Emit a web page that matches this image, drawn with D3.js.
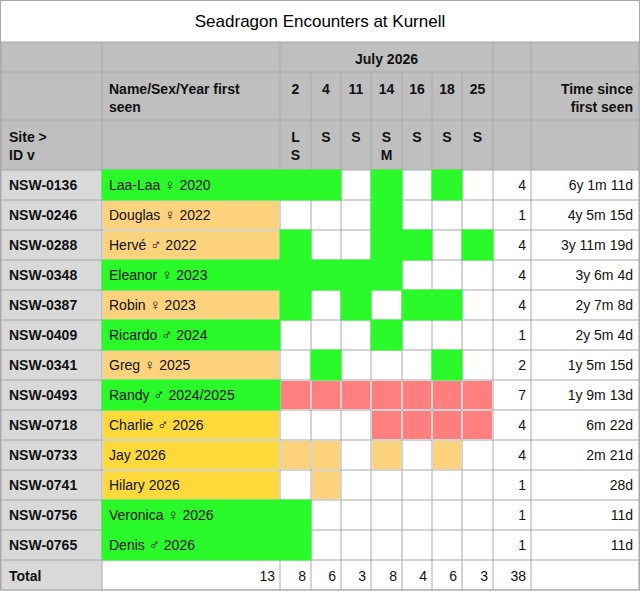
<!DOCTYPE html>
<html><head><meta charset="utf-8">
<script src="https://cdn.jsdelivr.net/npm/d3@7"></script>
<style>body{margin:0;background:#fff}svg{font-family:"Liberation Sans",Arial,Helvetica,sans-serif}</style>
</head><body><svg id="c" width="640" height="591"></svg>
<script>
const title = "Seadragon Encounters at Kurnell";
const dates = ["2","4","11","14","16","18","25"];
const methods = [["L","S"],["S"],["S"],["S","M"],["S"],["S"],["S"]];
const ids = ["NSW-0136","NSW-0246","NSW-0288","NSW-0348","NSW-0387","NSW-0409","NSW-0341","NSW-0493","NSW-0718","NSW-0733","NSW-0741","NSW-0756","NSW-0765"];
const names = ["Laa-Laa ♀ 2020","Douglas ♀ 2022","Hervé ♂ 2022","Eleanor ♀ 2023","Robin ♀ 2023","Ricardo ♂ 2024","Greg ♀ 2025","Randy ♂ 2024/2025","Charlie ♂ 2026","Jay 2026","Hilary 2026","Veronica ♀ 2026","Denis ♂ 2026"];
const nameColor = ["g","o","o","g","o","g","o","g","y","y","y","g","g"];
const sightings = [
 "gg.g.g.", "...g...", "g..gg.g", "gggg...", "g.g.gg.", "...g...", ".g...g.",
 "rrrrrrr", "...rrrr", "oo.o.o.", ".o.....", "g......", "g......"];
const counts = [4,1,4,4,4,1,2,7,4,4,1,1,1];
const since = ["6y 1m 11d","4y 5m 15d","3y 11m 19d","3y 6m 4d","2y 7m 8d","2y 5m 4d","1y 5m 15d","1y 9m 13d","6m 22d","2m 21d","28d","11d","11d"];
const totalsLabel = "13";
const dateTotals = [8,6,3,8,4,6,3];
const grandTotal = 38;

const fills = {g:"#2afa2a", o:"#fdd27c", y:"#fed93a", r:"#ff7f7f"};
const svg = d3.select("#c");
const colX = [1,102,280,311,341,371,402,432,462,493,531,639];
const rowY = d3.scaleLinear().domain([0,14]).range([170,590]);
const grid = "#a8a8a8";

svg.append("rect").attr("x",0.5).attr("y",0.5).attr("width",639).attr("height",589.5).attr("fill","#fff").attr("stroke",grid);
svg.append("text").attr("x",320).attr("y",27).attr("text-anchor","middle").attr("font-size",17).text(title);
svg.append("rect").attr("x",1).attr("y",42).attr("width",638).attr("height",128).attr("fill","#bfbfbf");
svg.append("rect").attr("x",1).attr("y",170).attr("width",101).attr("height",420).attr("fill","#d9d9d9");

const hl = [42,72,120,...d3.range(15).map(i=>rowY(i))];
hl.forEach(y=>{
  svg.append("line").attr("x1",1).attr("x2",639).attr("y1",y).attr("y2",y).attr("stroke",grid);
});
colX.forEach((x,i)=>{
  const y1 = (i>=3 && i<=8) ? 72 : 42;
  svg.append("line").attr("x1",x).attr("x2",x).attr("y1",y1).attr("y2",590).attr("stroke",grid);
});

function cell(c0,c1,r,code){
  if(!code) return;
  const x0=colX[c0], x1=colX[c1], y0=rowY(r), y1=rowY(r+1);
  if(code==="g") svg.append("rect").attr("x",x0-0.5).attr("y",y0-0.5).attr("width",x1-x0+1).attr("height",y1-y0+1).attr("fill",fills.g);
  else svg.append("rect").attr("x",x0+1).attr("y",y0+1).attr("width",x1-x0-2).attr("height",y1-y0-2).attr("fill",fills[code]);
}
ids.forEach((id,r)=>{
  cell(1,2,r,nameColor[r]);
  sightings[r].split("").forEach((s,j)=>{ if(s!==".") cell(2+j,3+j,r,s); });
});

const txt=(x,y,t,o={})=>svg.append("text").attr("x",x).attr("y",y).attr("font-size",o.fs||14)
  .attr("font-weight",o.b?"bold":"normal").attr("text-anchor",o.a||"start").attr("fill","#111").text(t);

txt((colX[2]+colX[9])/2,64,"July 2026",{b:1,a:"middle"});
txt(109,94,"Name/Sex/Year first",{b:1}); txt(109,112,"seen",{b:1});
txt(633,94,"Time since",{b:1,a:"end"}); txt(633,112,"first seen",{b:1,a:"end"});
dates.forEach((d,j)=>{
  const cx=(colX[2+j]+colX[3+j])/2;
  txt(cx,94,d,{b:1,a:"middle"});
  methods[j].forEach((m,k)=>txt(cx,142+k*18,m,{b:1,a:"middle"}));
});
txt(9,142,"Site >",{b:1}); txt(9,160,"ID v",{b:1});

ids.forEach((id,r)=>{
  const y=rowY(r)+20;
  txt(9,y,id,{b:1});
  const t=svg.append("text").attr("x",109).attr("y",y).attr("font-size",14).attr("fill","#111");
  names[r].split(/([♀♂])/).forEach(p=>{
    if(!p) return;
    const s=t.append("tspan").text(p);
    if(p==="♀"||p==="♂") s.attr("font-family","DejaVu Sans").attr("font-weight","300").attr("font-size",15);
  });
  txt(526,y,counts[r],{a:"end"});
  txt(633,y,since[r],{a:"end"});
});
const ty=rowY(13)+21;
txt(9,ty,"Total",{b:1});
txt(275,ty,totalsLabel,{a:"end"});
dateTotals.forEach((t,j)=>txt(colX[3+j]-5,ty,t,{a:"end"}));
txt(526,ty,grandTotal,{a:"end"});
</script></body></html>
